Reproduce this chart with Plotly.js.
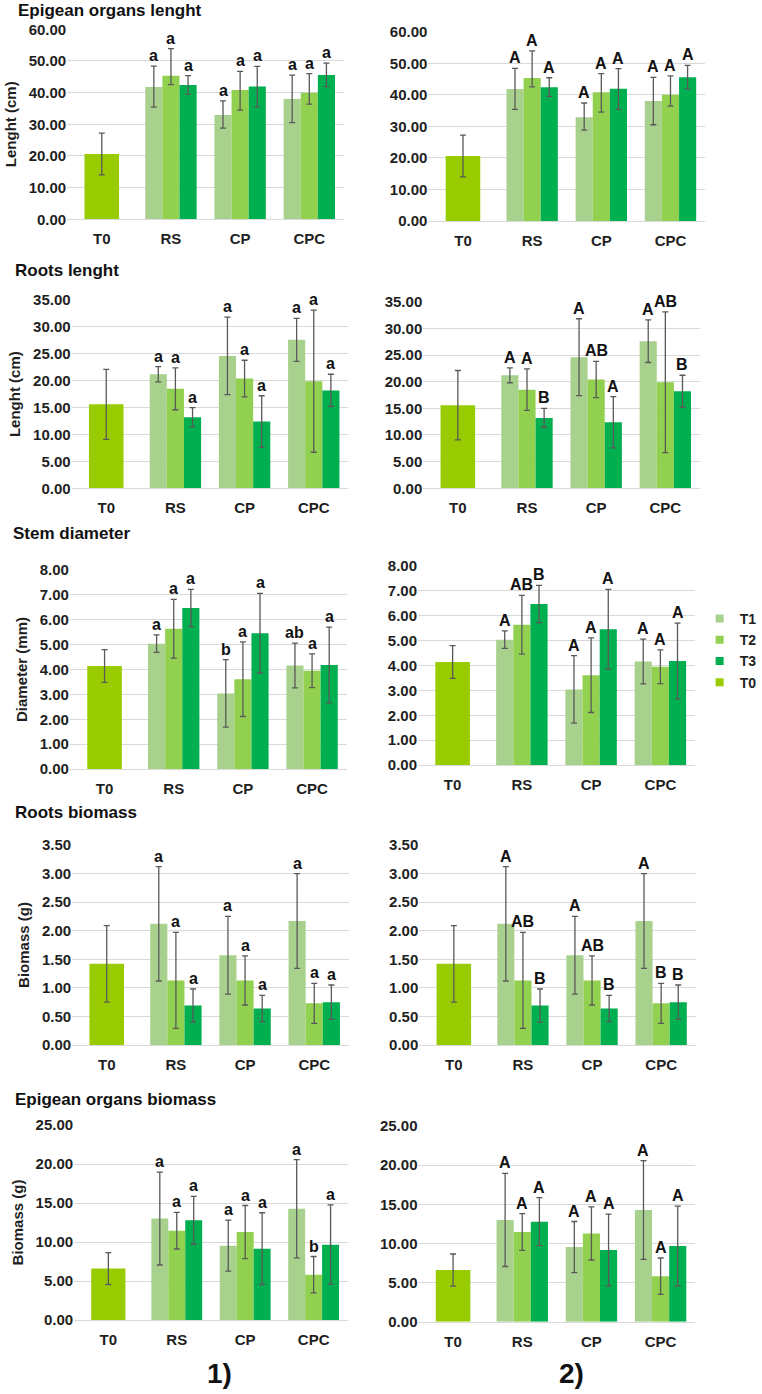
<!DOCTYPE html>
<html><head><meta charset="utf-8">
<script src="https://cdn.plot.ly/plotly-3.0.1.min.js"></script>
<style>html,body{margin:0;padding:0;background:#fff}#chart{width:762px;height:1394px}</style>
</head><body><div id="chart"></div>
<script>
// ---------------- DATA ----------------
const categories = ['T0', 'RS', 'CP', 'CPC'];
const groups = ['RS', 'CP', 'CPC'];
const seriesNames = ['T1', 'T2', 'T3'];
const t0Name = 'T0';
const panelTitles = ['Epigean organs lenght', 'Roots lenght', 'Stem diameter', 'Roots biomass', 'Epigean organs biomass'];
const yTitles = ['Lenght (cm)', 'Lenght (cm)', 'Diameter (mm)', 'Biomass (g)', 'Biomass (g)'];
const columnLabels = ['1)', '2)'];

// Epigean organs lenght (cm): rows T1,T2,T3 ; columns RS,CP,CPC
const eolMean   = [[41.8, 32.9, 38.0], [45.3, 40.8, 40.0], [42.4, 41.9, 45.6]];
const eolErrUp  = [[6.6, 4.5, 7.5], [8.6, 5.9, 6.0], [3.0, 6.4, 3.7]];
const eolErrDn  = [[6.4, 4.1, 7.5], [2.8, 6.3, 3.6], [2.9, 6.5, 3.7]];
const eolT0Mean = 20.6, eolT0Err = 6.6;
const eolLettersL = [['a', 'a', 'a'], ['a', 'a', 'a'], ['a', 'a', 'a']];
const eolLettersR = [['A', 'A', 'A'], ['A', 'A', 'A'], ['A', 'A', 'A']];

// Roots lenght (cm)
const rlMean = [[21.2, 24.6, 27.6], [18.5, 20.4, 19.9], [13.2, 12.4, 18.2]];
const rlErr  = [[1.4, 7.2, 4.0], [3.9, 3.4, 13.2], [1.8, 4.8, 3.0]];
const rlT0Mean = 15.6, rlT0Err = 6.5;
const rlLettersL = [['a', 'a', 'a'], ['a', 'a', 'a'], ['a', 'a', 'a']];
const rlLettersR = [['A', 'A', 'A'], ['A', 'AB', 'AB'], ['B', 'A', 'B']];

// Stem diameter (mm)
const sdMean = [[5.04, 3.04, 4.16], [5.64, 3.61, 3.95], [6.47, 5.46, 4.18]];
const sdErr  = [[0.35, 1.36, 0.90], [1.18, 1.50, 0.68], [0.75, 1.60, 1.52]];
const sdT0Mean = 4.14, sdT0Err = 0.66;
const sdLettersL = [['a', 'b', 'ab'], ['a', 'a', 'a'], ['a', 'a', 'a']];
const sdLettersR = [['A', 'A', 'A'], ['AB', 'A', 'A'], ['B', 'A', 'A']];

// Roots biomass (g)
const rbMean = [[2.12, 1.57, 2.17], [1.13, 1.13, 0.73], [0.69, 0.64, 0.75]];
const rbErr  = [[1.00, 0.68, 0.83], [0.84, 0.43, 0.35], [0.29, 0.23, 0.30]];
const rbT0Mean = 1.42, rbT0Err = 0.67;
const rbLettersL = [['a', 'a', 'a'], ['a', 'a', 'a'], ['a', 'a', 'a']];
const rbLettersR = [['A', 'A', 'A'], ['AB', 'AB', 'B'], ['B', 'B', 'B']];

// Epigean organs biomass (g)
const ebMean = [[13.0, 9.53, 14.27], [11.45, 11.28, 5.81], [12.78, 9.15, 9.66]];
const ebErr  = [[5.95, 3.27, 6.3], [2.35, 3.4, 2.33], [3.07, 4.6, 5.1]];
const ebT0Mean = 6.6, ebT0Err = 2.05;
const ebLettersL = [['a', 'a', 'a'], ['a', 'a', 'b'], ['a', 'a', 'a']];
const ebLettersR = [['A', 'A', 'A'], ['A', 'A', 'A'], ['A', 'A', 'A']];

// ---------------- STYLE / LAYOUT ----------------
const FW = 762, FH = 1394;
const FONT = 'Liberation Sans, Arial, Helvetica, sans-serif';
const TXT = '#1f1f1f';
const seriesColors = ['#a9d18e', '#92d050', '#00b050'];
const t0Color = '#99cc00';
const gridColor = '#d9d9d9';
const errColor = '#595959';

const metrics = [
  {mean: eolMean, up: eolErrUp, dn: eolErrDn, t0: eolT0Mean, t0e: eolT0Err, L: eolLettersL, R: eolLettersR},
  {mean: rlMean, up: rlErr, dn: rlErr, t0: rlT0Mean, t0e: rlT0Err, L: rlLettersL, R: rlLettersR},
  {mean: sdMean, up: sdErr, dn: sdErr, t0: sdT0Mean, t0e: sdT0Err, L: sdLettersL, R: sdLettersR},
  {mean: rbMean, up: rbErr, dn: rbErr, t0: rbT0Mean, t0e: rbT0Err, L: rbLettersL, R: rbLettersR},
  {mean: ebMean, up: ebErr, dn: ebErr, t0: ebT0Mean, t0e: ebT0Err, L: ebLettersL, R: ebLettersR}
];
const yMax = [60, 35, 8, 3.5, 25];
const yStep = [10, 5, 1, 0.5, 5];

// plot-area boxes in pixels [left, right, top, bottom]
const boxes = [
  [[68, 348, 29.3, 219.3], [433.5, 713.5, 31.7, 221]],
  [[72.5, 352.5, 300, 488.3], [428.3, 708.3, 301.7, 488.3]],
  [[70.8, 350.8, 570, 769], [423, 703.3, 566, 765]],
  [[73, 353, 845, 1045], [424.3, 704, 845, 1045]],
  [[75, 352, 1125, 1320], [423.5, 703.5, 1126, 1321.7]]
];
const titlePos = [[16, 10], [13, 270.5], [11, 533.7], [13, 812.5], [13, 1099]];

const px = v => v / FW;
const py = v => 1 - v / FH;

const data = [];
const annotations = [];
const layout = {
  width: FW, height: FH,
  margin: {l: 0, r: 0, t: 0, b: 0},
  paper_bgcolor: '#fff', plot_bgcolor: '#fff',
  barmode: 'overlay',
  showlegend: true,
  font: {family: FONT, color: TXT},
  legend: {
    x: px(708), xanchor: 'left', y: py(603), yanchor: 'top',
    font: {family: FONT, size: 14, color: TXT, weight: 'bold'},
    bgcolor: 'rgba(0,0,0,0)', borderwidth: 0, traceorder: 'normal'
  },
  annotations: annotations
};

const barW = 0.2476;
const offs = [-1.5 * barW, -0.5 * barW, 0.5 * barW];

metrics.forEach((m, r) => {
  [0, 1].forEach(s => {
    const idx = r * 2 + s + 1;
    const xa = 'x' + (idx === 1 ? '' : idx);
    const ya = 'y' + (idx === 1 ? '' : idx);
    const xk = 'xaxis' + (idx === 1 ? '' : idx);
    const yk = 'yaxis' + (idx === 1 ? '' : idx);
    const b = boxes[r][s];
    layout[xk] = {
      domain: [px(b[0]), px(b[1])], anchor: ya,
      type: 'category', categoryorder: 'array', categoryarray: categories,
      range: [-0.5, 3.5], fixedrange: true,
      showgrid: false, zeroline: false,
      showline: true, linecolor: gridColor, linewidth: 1,
      ticks: 'outside', ticklen: 6, tickcolor: 'rgba(0,0,0,0)',
      tickfont: {family: FONT, size: 15, color: TXT, weight: 'bold'}
    };
    layout[yk] = {
      domain: [py(b[3]), py(b[2])], anchor: xa,
      range: [0, yMax[r]], dtick: yStep[r], tick0: 0, tickformat: '.2f',
      fixedrange: true, showgrid: true, gridcolor: gridColor, gridwidth: 1,
      zeroline: false, showline: false, ticks: '',
      tickfont: {family: FONT, size: 15, color: TXT, weight: 'bold'}
    };
    if (s === 0) {
      layout[yk].title = {text: yTitles[r], standoff: 8,
        font: {family: FONT, size: 15, color: TXT, weight: 'bold'}};
    }
    // T0 bar
    data.push({
      type: 'bar', name: t0Name, x: [t0Name], y: [m.t0], xaxis: xa, yaxis: ya,
      width: 0.5, offset: -0.25, marker: {color: t0Color, line: {width: 0}},
      error_y: {type: 'data', symmetric: true, array: [m.t0e], color: errColor, thickness: 1.3, width: 3},
      showlegend: false, hoverinfo: 'skip'
    });
    // T1..T3 bars
    seriesNames.forEach((nm, k) => {
      data.push({
        type: 'bar', name: nm, x: groups, y: m.mean[k], xaxis: xa, yaxis: ya,
        width: barW, offset: offs[k], marker: {color: seriesColors[k], line: {width: 0}},
        error_y: {type: 'data', symmetric: false, array: m.up[k], arrayminus: m.dn[k],
          color: errColor, thickness: 1.3, width: 3},
        showlegend: false, hoverinfo: 'skip'
      });
      const letters = s === 0 ? m.L[k] : m.R[k];
      groups.forEach((g, gi) => {
        annotations.push({
          xref: xa, yref: ya, x: categories.indexOf(g) + offs[k] + barW / 2,
          y: m.mean[k][gi] + m.up[k][gi], yanchor: 'bottom', xanchor: 'center',
          text: letters[gi], showarrow: false, yshift: 0,
          font: {family: FONT, size: 16, color: '#111', weight: 'bold'}
        });
      });
    });
  });
  // panel title
  annotations.push({
    xref: 'paper', yref: 'paper', x: px(titlePos[r][0]), y: py(titlePos[r][1]),
    xanchor: 'left', yanchor: 'middle', text: panelTitles[r], showarrow: false,
    font: {family: FONT, size: 17, color: '#111', weight: 'bold'}
  });
});

// legend keys
const legendNames = seriesNames.concat([t0Name]);
const legendColors = seriesColors.concat([t0Color]);
legendNames.forEach((nm, i) => {
  data.push({type: 'scatter', mode: 'markers', name: nm, x: [null], y: [null],
    xaxis: 'x5', yaxis: 'y5', marker: {symbol: 'square', size: 8, color: legendColors[i]},
    showlegend: true, hoverinfo: 'skip'});
});

// column labels
[[222, 1373], [578, 1373]].forEach((p, i) => {
  annotations.push({xref: 'paper', yref: 'paper', x: px(p[0]), y: py(p[1]),
    xanchor: 'center', yanchor: 'middle', text: columnLabels[i], showarrow: false,
    font: {family: FONT, size: 28, color: '#111', weight: 'bold'}});
});

Plotly.newPlot('chart', data, layout, {staticPlot: true, displayModeBar: false});
</script>
</body></html>
